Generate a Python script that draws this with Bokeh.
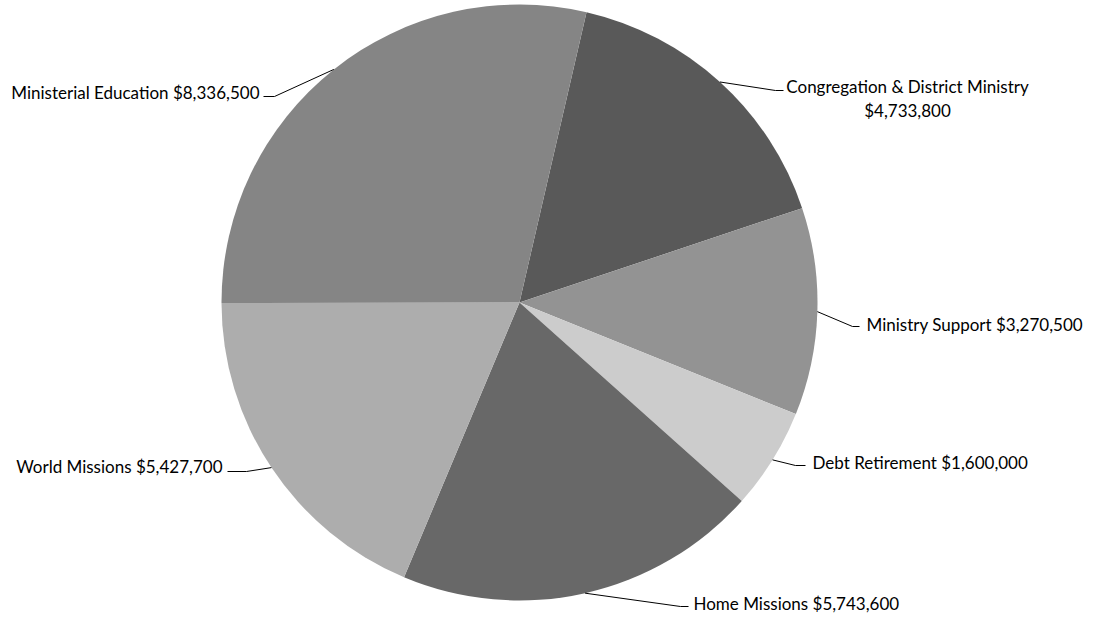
import numpy as np
from bokeh.plotting import figure
from bokeh.models import Range1d
from bokeh.embed import file_html
from bokeh.resources import INLINE
from bokeh.core.properties import value

# ---- data ----
categories = ["Congregation & District Ministry", "Ministry Support", "Debt Retirement",
              "Home Missions", "World Missions", "Ministerial Education"]
amounts = [4733800, 3270500, 1600000, 5743600, 5427700, 8336500]
colors = ["#595959", "#939393", "#cccccc", "#686868", "#adadad", "#858585"]

# ---- layout ----
W, H, OFF = 1096, 618, 0
def Y(yi):
    return H + OFF - yi

CX, CY, R = 519, 302, 298
START_DEG = 13  # clockwise from 12 o'clock
FONT = "Lato"
FSIZE = "17px"

total = float(sum(amounts))
fr = np.array(amounts) / total
cum = np.concatenate([[0.0], np.cumsum(fr)]) * 360.0 + START_DEG
cs, ce = cum[:-1], cum[1:]
mid = (cs + ce) / 2.0

p = figure(width=W, height=H, output_backend="svg", toolbar_location=None,
           x_range=Range1d(OFF, OFF + W), y_range=Range1d(0, H),
           x_axis_location=None, y_axis_location=None, min_border=0,
           outline_line_color=None)
p.grid.visible = False
p.background_fill_color = "white"
p.border_fill_color = "white"

p.wedge(x=[CX] * len(amounts), y=[Y(CY)] * len(amounts), radius=R,
        start_angle=list(np.radians(90 - ce)), end_angle=list(np.radians(90 - cs)),
        direction="anticlock", fill_color=colors, line_color=None)

# label placement (image pixel coords): text anchor, align, elbow point, line end x
place = {
    "Congregation & District Ministry": dict(tx=907, ty=[86, 110], align="center", elbow=(775, 90), end=783, split=True),
    "Ministry Support": dict(tx=866, ty=[324], align="left", elbow=(852, 326), end=859),
    "Debt Retirement": dict(tx=812, ty=[462], align="left", elbow=(795, 465), end=805),
    "Home Missions": dict(tx=693, ty=[603], align="left", elbow=(680, 606), end=688),
    "World Missions": dict(tx=222, ty=[466], align="right", elbow=(246, 471), end=227),
    "Ministerial Education": dict(tx=259, ty=[92], align="right", elbow=(274, 96), end=263),
}

for cat, amt, m in zip(categories, amounts, mid):
    pl = place[cat]
    ex = CX + R * np.sin(np.radians(m))
    ey = CY - R * np.cos(np.radians(m))
    xs = [ex, pl["elbow"][0], pl["end"]]
    ys = [Y(ey), Y(pl["elbow"][1]), Y(pl["elbow"][1])]
    p.line(xs, ys, line_color="black", line_width=1)
    amt_s = "${:,}".format(amt)
    if pl.get("split"):
        texts = [cat, amt_s]
    else:
        texts = [cat + " " + amt_s]
    p.text(x=[pl["tx"]] * len(texts), y=[Y(t) for t in pl["ty"]], text=texts,
           text_font=value(FONT), text_font_size=FSIZE, text_color="black",
           text_align=pl["align"], text_baseline="middle")

open("out.html", "w").write(file_html(p, INLINE))
